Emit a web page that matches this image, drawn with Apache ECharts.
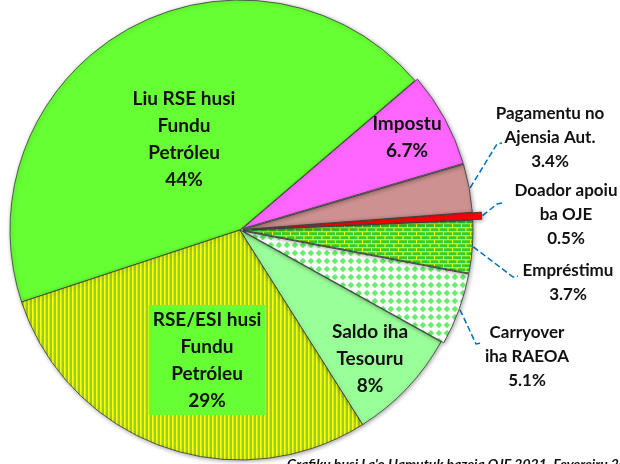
<!DOCTYPE html>
<html>
<head>
<meta charset="utf-8">
<script src="https://cdn.jsdelivr.net/npm/echarts@6/dist/echarts.min.js"></script>
<style>
  html, body { margin: 0; padding: 0; background: #fff; }
  #chart { width: 620px; height: 464px; }
</style>
</head>
<body>
<div id="chart"></div>
<script>
// dados OJE 2021 (%)
const categories = ['Liu RSE husi Fundu Petróleu', 'RSE/ESI husi Fundu Petróleu', 'Saldo iha Tesouru',
  'Carryover iha RAEOA', 'Empréstimu', 'Doador apoiu ba OJE', 'Pagamentu no Ajensia Aut.', 'Impostu'];
const values = [44, 29, 8, 5.1, 3.7, 0.5, 3.4, 6.7];
const labelNames = [
  ['Liu RSE husi', 'Fundu', 'Petróleu'],
  ['RSE/ESI husi', 'Fundu', 'Petróleu'],
  ['Saldo iha', 'Tesouru'],
  ['Carryover', 'iha RAEOA'],
  ['Empréstimu'],
  ['Doador apoiu', 'ba OJE'],
  ['Pagamentu no', 'Ajensia Aut.'],
  ['Impostu']
];
// posizaun label (centru) no kotuk liña
const labelPos = [[184, 139], [207, 360], [370, 359], [527, 357], [568, 283], [566, 215], [550, 138], [407, 137]];
const leaderKnee = { 3: [476, 344], 4: [513, 277], 5: [497, 204], 6: [497, 144] };
const insideIdx = [0, 1, 2, 7];
const pulledIdx = [3, 4, 6, 7];
const DOADOR = 5;

const CX = 240, CY = 230, R = 230, START = 40.5;
const OFFSET_SMALL = 3, OFFSET_BIG = 12;

function makePattern(w, h, draw) {
  const c = document.createElement('canvas');
  c.width = w; c.height = h;
  draw(c.getContext('2d'));
  return { image: c, repeat: 'repeat' };
}
const stripes = makePattern(4, 4, ctx => {
  ctx.fillStyle = '#9ccc2e'; ctx.fillRect(0, 0, 4, 4);
  ctx.fillStyle = '#ffff00'; ctx.fillRect(0, 0, 1.6, 4);
});
const bricks = makePattern(9, 8, ctx => {
  ctx.fillStyle = '#ffff00'; ctx.fillRect(0, 0, 9, 8);
  ctx.fillStyle = '#33cc33';
  ctx.fillRect(0, 0, 8, 3);
  ctx.fillRect(0, 4, 3.5, 3);
  ctx.fillRect(4.5, 4, 4.5, 3);
});
const diamonds = makePattern(8, 8, ctx => {
  ctx.fillStyle = '#ffffff'; ctx.fillRect(0, 0, 8, 8);
  ctx.fillStyle = '#66ee66';
  ctx.beginPath();
  ctx.moveTo(4, 0.7); ctx.lineTo(7.3, 4); ctx.lineTo(4, 7.3); ctx.lineTo(0.7, 4);
  ctx.closePath(); ctx.fill();
});
const colors = ['#66ff33', stripes, '#99ff99', diamonds, bricks, '#ff0000', '#cd9191', '#ff66ff'];

const textFont = { fontFamily: 'Lato', fontWeight: 'bold', color: '#111' };
const lineStyle = { color: '#0070c0', type: 'dashed', width: 1.5 };
const clear = { color: 'rgba(0,0,0,0)', borderWidth: 0, shadowBlur: 0, shadowOffsetX: 0, shadowOffsetY: 0 };

// pontu iha ninin fatia nian (klaran ângulu)
const total = values.reduce((a, b) => a + b, 0);
function edgePoint(i) {
  let cum = 0;
  for (let k = 0; k < i; k++) cum += values[k];
  const mid = (START + (cum + values[i] / 2) / total * 360) * Math.PI / 180;
  const r = R + (i === DOADOR ? OFFSET_BIG : (pulledIdx.indexOf(i) >= 0 ? OFFSET_SMALL : 0)) + 1;
  return [CX + r * Math.cos(mid), CY - r * Math.sin(mid)];
}

function labelOpt(i) {
  if (insideIdx.indexOf(i) >= 0) {
    const o = Object.assign({ show: true, position: 'inside', fontSize: 19, lineHeight: 27 }, textFont);
    if (i === 1) { o.backgroundColor = '#66ff33'; o.padding = [1, 4]; }
    return o;
  }
  return Object.assign({ show: true, position: 'outside', fontSize: 17, lineHeight: 24 }, textFont);
}

// fatia sira (la inklui Doador)
const dataA = categories.map((name, i) => ({
  name: name,
  value: values[i],
  selected: pulledIdx.indexOf(i) >= 0,
  itemStyle: i === DOADOR ? clear : { color: colors[i] }
}));

// Doador, hasai liu
const dataB = categories.map((name, i) => ({
  name: name,
  value: values[i],
  selected: i === DOADOR,
  itemStyle: i === DOADOR ? { color: colors[i] } : clear
}));

// label deit
const dataC = categories.map((name, i) => ({
  name: name,
  value: values[i],
  itemStyle: clear,
  label: labelOpt(i),
  labelLine: { show: insideIdx.indexOf(i) < 0, lineStyle: lineStyle }
}));

const fmt = p => labelNames[p.dataIndex].join('\n') + '\n' + values[p.dataIndex] + '%';

const baseSeries = {
  type: 'pie',
  center: [CX, CY],
  radius: R,
  startAngle: START,
  clockwise: false,
  avoidLabelOverlap: false,
  animation: false,
  emphasis: { disabled: true },
  itemStyle: {
    borderColor: '#3a3a3a',
    borderWidth: 0.8,
    shadowBlur: 4,
    shadowColor: 'rgba(0,0,0,0.35)',
    shadowOffsetX: 1,
    shadowOffsetY: 1
  },
  label: { show: false },
  labelLine: { show: false }
};

const chart = echarts.init(document.getElementById('chart'));
chart.setOption({
  backgroundColor: '#ffffff',
  series: [
    Object.assign({}, baseSeries, { selectedMode: 'multiple', selectedOffset: OFFSET_SMALL, data: dataA }),
    Object.assign({}, baseSeries, { selectedMode: 'multiple', selectedOffset: OFFSET_BIG, data: dataB }),
    Object.assign({}, baseSeries, {
      silent: true,
      data: dataC,
      label: { formatter: fmt },
      labelLayout: p => {
        const i = p.dataIndex;
        const out = { x: labelPos[i][0], y: labelPos[i][1], align: 'center', verticalAlign: 'middle' };
        const knee = leaderKnee[i];
        if (knee) {
          out.labelLinePoints = [edgePoint(i), knee, [knee[0] + 5, knee[1] - 1]];
        }
        return out;
      }
    })
  ],
  graphic: [{
    type: 'text',
    left: 287,
    top: 457,
    style: {
      text: "Grafiku husi La'o Hamutuk bazeia OJE 2021. Fevereiru 2021",
      font: 'italic bold 14px Lato',
      fill: '#111'
    }
  }]
});
</script>
</body>
</html>
